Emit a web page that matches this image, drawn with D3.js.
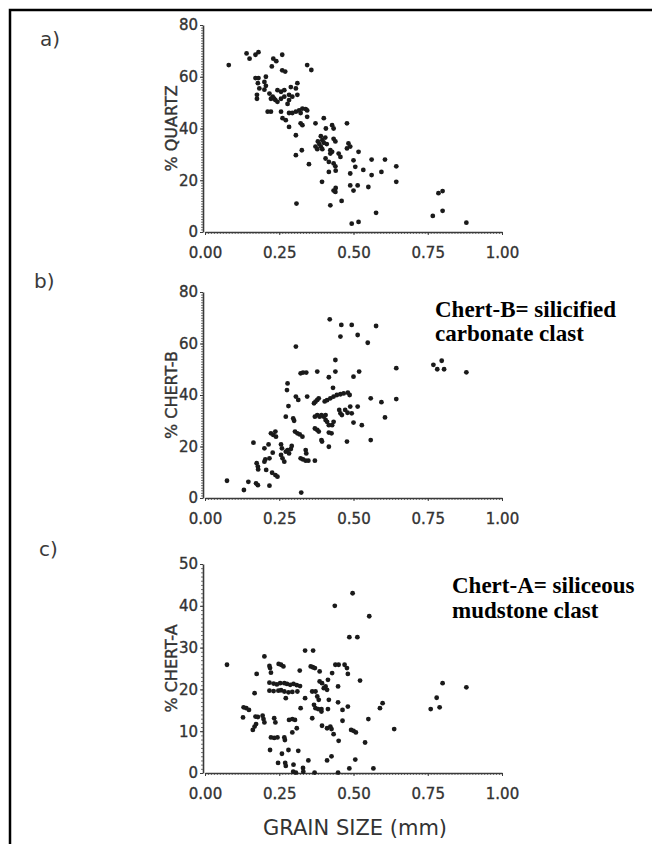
<!DOCTYPE html>
<html>
<head>
<meta charset="utf-8">
<script src="https://cdn.jsdelivr.net/npm/d3@7"></script>
<style>
  body { margin: 0; background: #fff; }
  .tick text { font-family: "DejaVu Sans", sans-serif; font-size: 15px; fill: #333; stroke: #333; stroke-width: 0.35; }
  .axis path, .axis line { stroke: #3a3a3a; }
  .minor line { stroke: #777; }
  .minor path { display: none; }
</style>
</head>
<body>
<script>
// ─── data ────────────────────────────────────────────────────────────────────

const xTicks = [0, 0.25, 0.5, 0.75, 1];

const quartzTicks = [0, 20, 40, 60, 80];
const chertBTicks = [0, 20, 40, 60, 80];
const chertATicks = [0, 10, 20, 30, 40, 50];

// grain size (mm), % quartz
const quartzPts = [
  [0.08,64.5],[0.14,69],[0.15,67],[0.17,68.5],[0.18,69.5],[0.23,67],[0.24,66],[0.26,68.5],
  [0.225,64],[0.26,62.5],[0.27,62],[0.17,59.5],[0.18,59.5],[0.205,60],[0.2,58],[0.205,56.5],
  [0.178,57.5],[0.183,55.5],[0.175,53],[0.175,51.5],[0.2,55],[0.217,53.5],[0.228,52.3],
  [0.237,51],[0.244,50.3],[0.222,51.5],[0.233,51.5],[0.244,54.8],[0.256,54.2],[0.267,54.8],
  [0.256,51.5],[0.267,52.3],[0.283,51],[0.278,49.5],[0.289,56],[0.306,55.5],[0.311,57.5],
  [0.283,53],[0.294,52.3],[0.311,53],[0.211,46.5],[0.222,46.5],[0.256,46.5],[0.261,44],
  [0.272,43.2],[0.283,46],[0.294,46],[0.306,46.5],[0.317,47],[0.322,46],[0.328,47.7],
  [0.339,47.5],[0.344,47],[0.283,40.6],[0.322,42],[0.328,41.3],[0.344,44.5],[0.344,64.5],
  [0.358,62.6],[0.306,37.4],[0.306,29.7],[0.326,31.6],[0.35,26.2],[0.308,11],[0.372,42],
  [0.4,44],[0.407,40],[0.38,35],[0.385,34],[0.39,33],[0.395,35.5],[0.4,34.5],[0.405,36.5],
  [0.41,34],[0.372,33],[0.378,32],[0.395,32],[0.39,37],[0.428,41.3],[0.433,40],[0.433,36],
  [0.439,35],[0.422,31.6],[0.422,30.3],[0.428,31],[0.406,28.4],[0.417,27.1],[0.394,19.4],
  [0.417,23.2],[0.433,26.5],[0.439,25.4],[0.44,23.7],[0.45,30.3],[0.456,29],[0.478,42],
  [0.483,34.2],[0.489,33],[0.478,32.3],[0.422,10.3],[0.433,16],[0.439,15.5],[0.44,17],
  [0.46,12],[0.489,22.6],[0.489,18],[0.5,16],[0.494,3.2],[0.517,3.9],[0.517,31],[0.5,27.7],
  [0.506,25.2],[0.514,18],[0.533,24],[0.55,17.4],[0.561,28],[0.561,22],[0.576,7.4],
  [0.594,23.2],[0.606,28],[0.644,25.4],[0.644,19.4],[0.786,15],[0.8,15.8],[0.8,8.2],
  [0.767,6.2],[0.88,3.6]
];

// grain size (mm), % chert-B
const chertBPts = [
  [0.074,6.7],[0.131,3.1],[0.146,6.3],[0.172,5.7],[0.178,5],[0.217,4.8],[0.163,21.5],
  [0.174,13.5],[0.178,12.2],[0.179,11.1],[0.2,19.3],[0.203,15],[0.2,14.1],[0.206,10.9],
  [0.214,20.8],[0.222,25.1],[0.23,24.5],[0.237,25.8],[0.239,23.8],[0.228,17.6],[0.217,15.4],
  [0.226,9.8],[0.237,8.9],[0.244,8.3],[0.256,20.8],[0.259,19.3],[0.256,16.7],[0.261,15.4],
  [0.267,14.1],[0.272,18],[0.278,18.6],[0.283,17.3],[0.289,19],[0.292,20.2],[0.272,31.6],
  [0.276,41.9],[0.278,44.5],[0.281,35.7],[0.297,30.9],[0.3,30],[0.306,58.8],[0.306,39.4],
  [0.314,38.1],[0.303,25.8],[0.311,25.1],[0.319,24.7],[0.328,23.8],[0.322,15.4],[0.33,15],
  [0.339,14.5],[0.348,14.5],[0.37,14.5],[0.339,18.6],[0.341,17.3],[0.324,2.1],[0.322,48.4],
  [0.33,48.7],[0.341,48.7],[0.344,39.4],[0.378,49.1],[0.367,36.8],[0.372,37.4],[0.378,38.1],
  [0.383,38.7],[0.37,31.6],[0.378,32.2],[0.386,31.6],[0.392,32.2],[0.4,31.6],[0.406,32.2],
  [0.37,27],[0.378,26.4],[0.383,25.8],[0.392,22.5],[0.394,21.9],[0.417,19.9],[0.406,30.3],
  [0.411,29.6],[0.417,28.3],[0.417,25.4],[0.426,25.1],[0.428,28.3],[0.433,29.6],[0.403,37.5],
  [0.411,38],[0.422,38.7],[0.433,39.4],[0.444,40],[0.456,40.3],[0.467,40.6],[0.417,46.9],
  [0.431,42.8],[0.439,49.1],[0.439,53.6],[0.42,69.4],[0.456,62.7],[0.459,67.2],[0.494,67.2],
  [0.514,63.3],[0.548,60.3],[0.576,66.8],[0.519,49.1],[0.5,47.1],[0.452,34.2],[0.456,32.9],
  [0.461,32.2],[0.481,40.9],[0.487,40],[0.472,34.2],[0.48,33.1],[0.489,35.5],[0.494,32.9],
  [0.5,29.3],[0.514,35.5],[0.478,21.9],[0.528,28.3],[0.558,38.7],[0.558,22.5],[0.594,37.2],
  [0.606,31.3],[0.644,50.4],[0.644,38.4],[0.769,51.7],[0.782,50],[0.797,53.3],[0.805,50],
  [0.88,48.8]
];

// grain size (mm), % chert-A
const chertAPts = [
  [0.074,25.9],[0.2,27.9],[0.174,23.7],[0.167,19.1],[0.217,25.6],[0.219,25.1],[0.222,24],
  [0.248,26.1],[0.256,25.9],[0.264,25.5],[0.217,21.6],[0.231,21.4],[0.242,21.2],[0.253,21.5],
  [0.267,21.5],[0.276,21.3],[0.287,21.1],[0.298,21.3],[0.309,21],[0.32,20.8],[0.217,19.7],
  [0.231,19.6],[0.247,19.7],[0.256,19.8],[0.267,19.5],[0.281,19.3],[0.294,19.4],[0.311,19.5],
  [0.272,17.9],[0.319,24.5],[0.337,29.3],[0.364,29.3],[0.356,25.5],[0.363,25.3],[0.37,25.1],
  [0.337,17.9],[0.322,15.5],[0.361,19.5],[0.372,19.5],[0.386,24.3],[0.386,21.9],[0.394,21.5],
  [0.406,20.7],[0.411,19.9],[0.4,20.3],[0.414,22.3],[0.428,23.9],[0.439,25.9],[0.45,25.9],
  [0.47,25.9],[0.478,25.1],[0.481,23.7],[0.448,20.7],[0.378,18.3],[0.383,17.5],[0.367,16.3],
  [0.372,15.5],[0.381,15.3],[0.392,15.3],[0.414,15.3],[0.417,17.5],[0.448,16.9],[0.463,15.1],
  [0.463,12.5],[0.481,15.9],[0.361,13.1],[0.392,14.7],[0.394,11.3],[0.411,10.7],[0.422,11.1],
  [0.426,10.5],[0.433,9.3],[0.45,7.7],[0.492,10.3],[0.5,10.1],[0.508,9.7],[0.437,40],
  [0.497,43],[0.553,37.5],[0.486,32.5],[0.513,32.5],[0.522,22.1],[0.55,12.9],[0.539,7.3],
  [0.589,15.5],[0.598,16.7],[0.637,10.5],[0.13,15.7],[0.139,15.5],[0.148,15.1],[0.128,13.3],
  [0.17,13.5],[0.178,13.4],[0.194,13.7],[0.197,12.9],[0.2,12.1],[0.233,13.1],[0.237,12.1],
  [0.161,10.3],[0.167,11.1],[0.172,11.7],[0.283,12.7],[0.294,12.9],[0.303,12.7],[0.309,10.7],
  [0.294,9.7],[0.222,8.5],[0.233,8.4],[0.244,8.5],[0.267,8.5],[0.269,7.9],[0.219,5.5],
  [0.259,4.6],[0.246,2.4],[0.27,2.4],[0.272,1.7],[0.298,2],[0.281,5.5],[0.314,5.3],
  [0.297,0.3],[0.306,0.1],[0.33,1.2],[0.331,0.3],[0.348,3],[0.369,0.1],[0.411,3],[0.426,4],
  [0.448,0.1],[0.486,1.1],[0.506,3.2],[0.567,1.1],[0.76,15.3],[0.79,15.7],[0.78,18],
  [0.8,21.5],[0.88,20.5]
];

// ─── layout ──────────────────────────────────────────────────────────────────

const W = 652, H = 844;

const panels = [
  { letter: 'a)', label: '% QUARTZ',  pts: quartzPts, ticks: quartzTicks, max: 80, top: 25,  bottom: 232,
    letterX: 40, letterY: 46 },
  { letter: 'b)', label: '% CHERT-B', pts: chertBPts, ticks: chertBTicks, max: 80, top: 292, bottom: 498,
    letterX: 34, letterY: 288,
    note: ['Chert-B= silicified', 'carbonate clast'], noteX: 435, noteY: 317, noteGap: 24 },
  { letter: 'c)', label: '% CHERT-A', pts: chertAPts, ticks: chertATicks, max: 50, top: 564, bottom: 773,
    letterX: 39, letterY: 556,
    note: ['Chert-A= siliceous', 'mudstone clast'], noteX: 452, noteY: 593, noteGap: 25 },
];

const svg = d3.select('body').append('svg')
  .attr('width', W)
  .attr('height', H);

// frame (only top + left edge are visible)
svg.append('path')
  .attr('d', `M${W},10 H10 V${H}`)
  .attr('fill', 'none')
  .attr('stroke', '#000')
  .attr('stroke-width', 2.5);

const x = d3.scaleLinear().domain([0, 1]).range([205, 502]);

panels.forEach(p => {
  const y = d3.scaleLinear().domain([0, p.max]).range([p.bottom, p.top]);
  const g = svg.append('g');

  // minor ticks -> dotted look of the old plotter axes
  g.append('g')
    .attr('class', 'axis minor')
    .attr('transform', `translate(0,${p.bottom})`)
    .call(d3.axisBottom(x).tickValues(d3.range(0, 1.0001, 0.01)).tickSize(2).tickFormat(''));
  g.append('g')
    .attr('class', 'axis minor')
    .attr('transform', `translate(${x(0) - 2},0)`)
    .call(d3.axisLeft(y).tickValues(d3.range(0, p.max + 0.01, 1)).tickSize(2).tickFormat(''));

  g.append('g')
    .attr('class', 'axis')
    .attr('transform', `translate(0,${p.bottom})`)
    .call(d3.axisBottom(x).tickValues(xTicks).tickFormat(d3.format('.2f'))
      .tickSize(3).tickPadding(12).tickSizeOuter(0))
    .call(a => a.select('.domain').attr('stroke-width', 1.6));

  g.append('g')
    .attr('class', 'axis')
    .attr('transform', `translate(${x(0) - 2},0)`)
    .call(d3.axisLeft(y).tickValues(p.ticks).tickSize(3).tickPadding(2).tickSizeOuter(0))
    .call(a => a.select('.domain').attr('stroke-width', 1.6));

  g.selectAll('circle')
    .data(p.pts)
    .enter()
    .append('circle')
    .attr('cx', d => x(d[0]))
    .attr('cy', d => y(d[1]))
    .attr('r', 2.4)
    .attr('fill', '#1a1a1a');

  g.append('text')
    .attr('transform', `translate(177,${(p.top + p.bottom) / 2}) rotate(-90)`)
    .attr('text-anchor', 'middle')
    .attr('font-family', '"DejaVu Sans", sans-serif')
    .attr('font-size', 16)
    .attr('fill', '#333')
    .attr('stroke', '#333')
    .attr('stroke-width', 0.4)
    .text(p.label);

  g.append('text')
    .attr('x', p.letterX)
    .attr('y', p.letterY)
    .attr('font-family', '"DejaVu Sans", sans-serif')
    .attr('font-size', 20)
    .attr('fill', '#3a3a3a')
    .text(p.letter);

  if (p.note) {
    g.append('text')
      .attr('font-family', '"Liberation Serif", "Times New Roman", serif')
      .attr('font-weight', 'bold')
      .attr('font-size', 23)
      .attr('fill', '#000')
      .selectAll('tspan')
      .data(p.note)
      .enter()
      .append('tspan')
      .attr('x', p.noteX)
      .attr('y', (_d, i) => p.noteY + i * p.noteGap)
      .text(d => d);
  }
});

svg.append('text')
  .attr('x', 355)
  .attr('y', 835)
  .attr('text-anchor', 'middle')
  .attr('font-family', '"DejaVu Sans", sans-serif')
  .attr('font-size', 21)
  .attr('fill', '#333')
  .text('GRAIN SIZE (mm)');
</script>
</body>
</html>
